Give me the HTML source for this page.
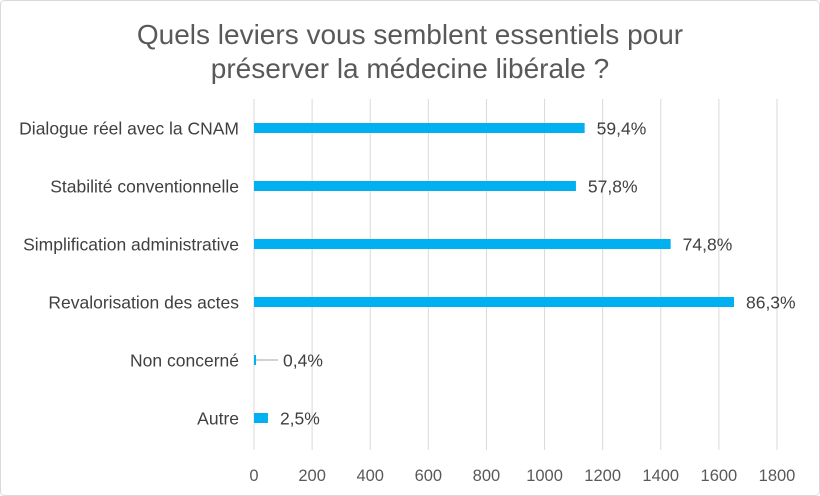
<!DOCTYPE html>
<html><head><meta charset="utf-8"><style>
body{margin:0;background:#fff;}
svg{display:block;font-family:"Liberation Sans",sans-serif;}
</style></head><body>
<svg id="c" width="820" height="496">
<rect x="0.5" y="0.5" width="819" height="495" rx="4" fill="#fff" stroke="#d9d9d9"/>
<text x="410" y="44" text-anchor="middle" font-size="28" fill="#595959">Quels leviers vous semblent essentiels pour</text>
<text x="410" y="78" text-anchor="middle" font-size="28" fill="#595959">préserver la médecine libérale ?</text>
<g id="grid"></g><g id="bars"></g><g id="labels"></g>
</svg>
<script>
const categories=["Dialogue réel avec la CNAM","Stabilité conventionnelle","Simplification administrative","Revalorisation des actes","Non concerné","Autre"];
const values=[1138,1108,1434,1652,7,48];
const pctLabels=["59,4%","57,8%","74,8%","86,3%","0,4%","2,5%"];
const ticks=[0,200,400,600,800,1000,1200,1400,1600,1800];
const NS="http://www.w3.org/2000/svg";
const x0=254,x1=777,plotTop=99,plotBottom=447,maxV=1800;
const xs=v=>x0+(v/maxV)*(x1-x0);
const band=(plotBottom-plotTop)/categories.length;
const yc=i=>plotTop+band*(i+0.5);
function mk(t,a,p){const e=document.createElementNS(NS,t);for(const k in a)e.setAttribute(k,a[k]);p.appendChild(e);return e;}
const g=document.getElementById('grid'),b=document.getElementById('bars'),l=document.getElementById('labels');
ticks.forEach(t=>{
 const ln=mk('line',{x1:xs(t),x2:xs(t),y1:plotTop,y2:plotBottom+3,stroke:'#d9d9d9','stroke-width':1},g);
 
 
 const tx=mk('text',{x:xs(t),y:481,'text-anchor':'middle','font-size':16.5,fill:'#595959'},g);
 tx.textContent=t;
 
 
});
categories.forEach((c,i)=>{
 const y=yc(i);
 const w=Math.max(1.5,xs(values[i])-x0);
 const r=mk('rect',{x:x0,y:y-5,width:w,height:10,fill:'#00b0f0'},b);
 
 
 const ct=mk('text',{x:239,y:y+6.5,'text-anchor':'end','font-size':17.5,fill:'#404040'},l);
 ct.textContent=c;
 
 
 let lx=x0+w+12;
 if(values[i]<20){
  const ll=mk('line',{x1:x0+w,x2:x0+w+22,y1:y,y2:y,stroke:'#a6a6a6','stroke-width':1},l);
  
  
  lx=x0+w+27;
 }
 const vt=mk('text',{x:lx,y:y+6.5,'font-size':17.5,fill:'#404040'},l);
 vt.textContent=pctLabels[i];
 
 
});
</script>
</body></html>
